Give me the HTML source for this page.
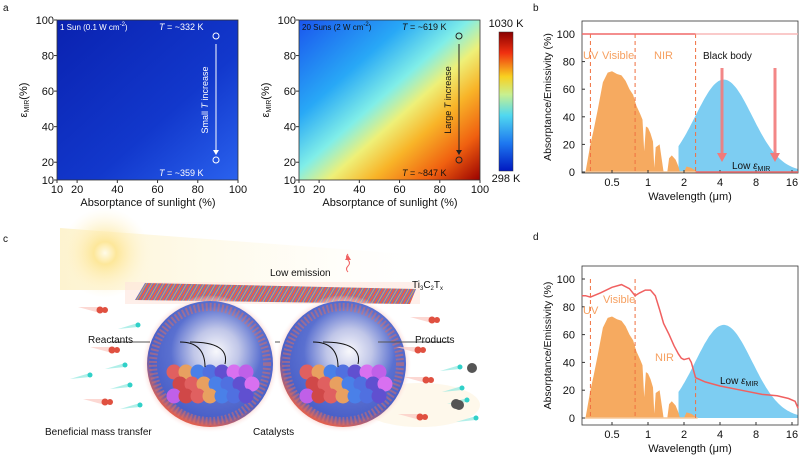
<!DOCTYPE html>
<html><head><meta charset="utf-8"><style>
body{margin:0;background:#fff;}
svg{display:block;font-family:"Liberation Sans",sans-serif;}
</style></head><body>
<svg id="s" width="800" height="459" viewBox="0 0 800 459" xmlns="http://www.w3.org/2000/svg">
<defs>
<linearGradient id="h1" x1="0" y1="0" x2="1" y2="1">
<stop offset="0" stop-color="#0a22b0"/><stop offset="0.6" stop-color="#1238cc"/><stop offset="1" stop-color="#2a62ee"/></linearGradient>
<linearGradient id="h2" x1="0" y1="0" x2="1" y2="1">
<stop offset="0" stop-color="#1a55ee"/><stop offset="0.3" stop-color="#28a8f6"/><stop offset="0.47" stop-color="#80eee8"/><stop offset="0.58" stop-color="#eef078"/><stop offset="0.7" stop-color="#f8b428"/><stop offset="0.85" stop-color="#f06010"/><stop offset="1" stop-color="#9a0000"/></linearGradient>
<linearGradient id="cb" x1="0" y1="1" x2="0" y2="0">
<stop offset="0" stop-color="#0018c0"/><stop offset="0.2" stop-color="#1e78f0"/><stop offset="0.4" stop-color="#50d8f0"/><stop offset="0.55" stop-color="#c8f090"/><stop offset="0.68" stop-color="#f8d020"/><stop offset="0.85" stop-color="#f03010"/><stop offset="1" stop-color="#8a0000"/></linearGradient>
<radialGradient id="sun" cx="0.5" cy="0.5" r="0.5"><stop offset="0" stop-color="#fffbe8"/><stop offset="0.25" stop-color="#fde79a"/><stop offset="1" stop-color="#fff6d8" stop-opacity="0"/></radialGradient>
<linearGradient id="beam" x1="0" y1="0" x2="1" y2="0"><stop offset="0" stop-color="#fbe9a8"/><stop offset="1" stop-color="#fff8e0" stop-opacity="0"/></linearGradient>
<pattern id="film" width="5" height="6" patternUnits="userSpaceOnUse" patternTransform="rotate(30)"><rect width="5" height="6" fill="#5a78d8"/><rect width="2" height="6" fill="#e86048"/><rect x="3" width="1" height="6" fill="#f0a040"/></pattern>
<radialGradient id="sph" cx="0.55" cy="0.4" r="0.6"><stop offset="0" stop-color="#f8f8fc"/><stop offset="0.3" stop-color="#c0c6e8"/><stop offset="0.6" stop-color="#5a70d0"/><stop offset="0.88" stop-color="#4a60c8"/><stop offset="1" stop-color="#e06050"/></radialGradient>
<radialGradient id="glow"><stop offset="0.85" stop-color="#f8b0a8"/><stop offset="1" stop-color="#fff" stop-opacity="0"/></radialGradient>
</defs>
<g id="g"></g>
</svg>
<script>
const g=document.getElementById('g');let h='';
function T(x,y,t,o){o=o||{};h+=`<text x="${x}" y="${y}" font-size="${o.s||11}" fill="${o.c||'#111'}" text-anchor="${o.a||'start'}" ${o.t?'transform="'+o.t+'"':''}>${t}</text>`;}
T(3,11,'a',{s:10});T(533,11,'b',{s:10});T(3,242,'c',{s:10});T(533,240,'d',{s:10});
function heat(x0,fill){
 h+=`<rect x="${x0}" y="20" width="181" height="160" fill="${fill}" stroke="#333" stroke-width="0.8"/>`;
 const X=v=>x0+(v-10)/90*181, Y=v=>180-(v-10)/90*160;
 [10,20,40,60,80,100].forEach(v=>{T(X(v),193,v,{a:'middle'});h+=`<line x1="${X(v)}" y1="180" x2="${X(v)}" y2="183" stroke="#333"/>`;
  T(x0-3,Y(v)+4,v,{a:'end'});h+=`<line x1="${x0-3}" y1="${Y(v)}" x2="${x0}" y2="${Y(v)}" stroke="#333"/>`;});
 T(x0+91,206,'Absorptance of sunlight (%)',{a:'middle'});
 T(x0-30,100,'ε<tspan font-size="7" dy="2">MIR</tspan><tspan dy="-2">(%)</tspan>',{a:'middle',t:`rotate(-90 ${x0-30} 100)`});
}
heat(57,'url(#h1)');
T(60,30,'1 Sun (0.1 W cm<tspan font-size="6" dy="-4">-2</tspan><tspan dy="4">)</tspan>',{s:8,c:'#fff'});
T(159,30,'<tspan font-style="italic">T</tspan> = ~332 K',{s:9,c:'#fff'});
T(159,176,'<tspan font-style="italic">T</tspan> = ~359 K',{s:9,c:'#fff'});
h+=`<circle cx="216" cy="36" r="3" fill="none" stroke="#fff"/><circle cx="216" cy="160" r="3" fill="none" stroke="#fff"/><line x1="216" y1="44" x2="216" y2="152" stroke="#fff"/><path d="M213,150 L219,150 L216,155Z" fill="#fff"/>`;
T(208,100,'Small <tspan font-style="italic">T</tspan> increase',{s:9,c:'#fff',a:'middle',t:'rotate(-90 208 100)'});
heat(299,'url(#h2)');
T(302,30,'20 Suns (2 W cm<tspan font-size="6" dy="-4">-2</tspan><tspan dy="4">)</tspan>',{s:8});
T(402,30,'<tspan font-style="italic">T</tspan> = ~619 K',{s:9});
T(402,176,'<tspan font-style="italic">T</tspan> = ~847 K',{s:9});
h+=`<circle cx="459" cy="36" r="3" fill="none" stroke="#222"/><circle cx="459" cy="160" r="3" fill="none" stroke="#222"/><line x1="459" y1="44" x2="459" y2="152" stroke="#222"/><path d="M456,150 L462,150 L459,155Z" fill="#222"/>`;
T(451,100,'Large <tspan font-style="italic">T</tspan> increase',{s:9,a:'middle',t:'rotate(-90 451 100)'});
h+=`<rect x="499" y="32" width="14" height="139" fill="url(#cb)" stroke="#333" stroke-width="0.5"/>`;
T(506,27,'1030 K',{a:'middle'});T(506,182,'298 K',{a:'middle'});
const LX=l=>648+36*Math.log2(l);
function gauss(l){return 67*Math.exp(-Math.pow(Math.log2(l/4.3),2)/(2*0.62));}
const sol=[[0.3,0],[0.33,20],[0.35,30],[0.38,45],[0.42,65],[0.46,72],[0.5,73],[0.55,71],[0.6,70],[0.65,66],[0.7,60],[0.75,56],[0.8,48],[0.86,42],[0.9,38],[0.93,15],[0.96,33],[1.0,32],[1.05,28],[1.1,22],[1.13,3],[1.16,18],[1.25,20],[1.3,10],[1.35,0],[1.45,0],[1.5,10],[1.58,12],[1.7,9],[1.78,5],[1.85,0],[2.0,0],[2.1,4],[2.3,3],[2.5,1],[2.6,0]];
function spec(y0,y100,top,bot){
 const Y=v=>y0-(v)*(y0-y100)/100;
 let p=`M${LX(1.8)},${Y(0)}`;for(let l=1.8;l<=18;l*=1.03)p+=` L${LX(l).toFixed(1)},${Y(gauss(l)).toFixed(1)}`;p+=` L798,${Y(gauss(18))} L798,${Y(0)}Z`;
 h+=`<path d="${p}" fill="#7dcdf2"/>`;
 p=`M${LX(0.3)},${Y(0)}`;sol.forEach(([l,v])=>p+=` L${LX(l).toFixed(1)},${Y(v).toFixed(1)}`);p+='Z';
 h+=`<path d="${p}" fill="#f6aa60"/>`;
 h+=`<line x1="585" y1="${Y(0)}" x2="${LX(2.6)}" y2="${Y(0)}" stroke="#f6c89a" stroke-width="1.5"/>`;
 [0.33,0.78,2.5].forEach(l=>h+=`<line x1="${LX(l)}" y1="${Y(l==2.5&&y0>300?28:100)}" x2="${LX(l)}" y2="${Y(0)}" stroke="#f07040" stroke-dasharray="4,3"/>`);
 h+=`<rect x="582" y="${top}" width="216" height="${bot-top}" fill="none" stroke="#333" stroke-width="0.8"/>`;
 [0,20,40,60,80,100].forEach(v=>{T(575,Y(v)+4,v,{a:'end'});h+=`<line x1="582" y1="${Y(v)}" x2="585" y2="${Y(v)}" stroke="#333"/>`;});
 [0.5,1,2,4,8,16].forEach(l=>{T(LX(l),bot+13,l,{a:'middle'});h+=`<line x1="${LX(l)}" y1="${bot}" x2="${LX(l)}" y2="${bot-3}" stroke="#333"/>`;});
 T(690,bot+27,'Wavelength (μm)',{a:'middle'});
 const cy=(top+bot)/2;T(551,cy,'Absorptance/Emissivity (%)',{s:10.5,a:'middle',t:`rotate(-90 551 ${cy})`});
 return Y;
}
spec(172,34,21,173);
h+=`<line x1="582" y1="34" x2="${LX(2.5)}" y2="34" stroke="#f06868" stroke-width="1.5"/><line x1="${LX(2.5)}" y1="34" x2="798" y2="34" stroke="#f8b8b8" stroke-width="1.5"/><line x1="${LX(2.5)}" y1="172" x2="798" y2="172" stroke="#f06868" stroke-width="1.5"/>`;
T(583,59,'UV',{c:'#f6a060'});T(602,59,'Visible',{c:'#f6a060'});T(654,59,'NIR',{c:'#f6a060'});T(703,59,'Black body',{s:10});
[722,775].forEach(x=>h+=`<rect x="${x-1.5}" y="68" width="3" height="88" fill="#f27a7a" opacity="0.9"/><path d="M${x-5},153 L${x+5},153 L${x},162Z" fill="#f27a7a"/>`);
T(732,169,'Low <tspan font-style="italic">ε</tspan><tspan font-size="7" dy="2">MIR</tspan>',{s:10});
let Yd=spec(418,279,266,425);
const red=[[0.28,88],[0.3,88],[0.33,87],[0.4,90],[0.5,94],[0.6,96],[0.7,93],[0.78,88],[0.85,90],[0.95,92],[1.05,92],[1.15,88],[1.25,78],[1.35,68],[1.5,60],[1.65,52],[1.8,46],[1.9,43],[2.0,42],[2.2,43],[2.3,40],[2.5,29],[3,26],[4,23],[6,20],[9,17],[12,16],[15,14],[17,12],[18,7]];
let pr='M'+red.map(([l,v])=>LX(l).toFixed(1)+','+Yd(v).toFixed(1)).join(' L');
h+=`<path d="${pr}" fill="none" stroke="#f06060" stroke-width="1.5"/>`;
T(583,314,'UV',{c:'#f6a060'});T(603,303,'Visible',{c:'#f6a060'});T(655,361,'NIR',{c:'#f6a060'});
T(720,384,'Low <tspan font-style="italic">ε</tspan><tspan font-size="7" dy="2">MIR</tspan>',{s:10});
// panel c
h+=`<path d="M60,228 L420,255 L420,290 L60,290Z" fill="url(#beam)" opacity="0.55"/><circle cx="105" cy="253" r="45" fill="url(#sun)"/>`;
h+=`<ellipse cx="420" cy="405" rx="60" ry="22" fill="#fdf2d8" opacity="0.5"/>`;
h+=`<rect x="125" y="282" width="295" height="22" fill="#fde4dc" opacity="0.6"/>`;
h+=`<path d="M145,283 L416,289 L410,304 L135,300Z" fill="url(#film)"/>`;
T(270,276,'Low emission',{s:10});T(412,288,'Ti<tspan font-size="6" dy="2">3</tspan><tspan dy="-2">C</tspan><tspan font-size="6" dy="2">2</tspan><tspan dy="-2">T</tspan><tspan font-size="6" dy="2">x</tspan>',{s:10});
h+=`<path d="M348,272 q-3,-3 0,-6 q3,-3 0,-6 q-3,-3 0,-6" stroke="#f06060" fill="none"/><path d="M345,260 L348,255 L351,260Z" fill="#f06060"/>`;
[[210,364],[343,364]].forEach(([cx,cy])=>{h+=`<circle cx="${cx}" cy="${cy}" r="69" fill="url(#glow)"/><circle cx="${cx}" cy="${cy}" r="63" fill="url(#sph)"/><circle cx="${cx}" cy="${cy}" r="57" fill="none" stroke="#e07060" stroke-width="8" stroke-dasharray="2,2" opacity="0.5"/>`;
 const cols=['#e06060','#5070e0','#c060e8','#e8a060','#6050d0','#d04848','#4a80e8','#d870f0'];
 let k=0;for(let j=0;j<3;j++)for(let i=-3;i<=3;i++){const x=cx+i*12+(j%2)*6,y=cy+8+j*12;if(Math.hypot(x-cx,y-cy)<53){h+=`<circle cx="${x}" cy="${y}" r="7.5" fill="${cols[(k++*3)%8]}"/>`;}}
 h+=`<path d="M${cx-30},${cy-22} q25,0 25,25" stroke="#111" fill="none"/><path d="M${cx-20},${cy-22} q40,0 35,22" stroke="#111" fill="none"/>`;});
h+=`<line x1="110" y1="342" x2="150" y2="342" stroke="#555"/><line x1="378" y1="342" x2="450" y2="342" stroke="#555"/><line x1="275" y1="342" x2="280" y2="342" stroke="#555"/>`;
T(88,343,'Reactants',{s:10});T(415,343,'Products',{s:10});
T(45,435,'Beneficial mass transfer',{s:10});T(253,435,'Catalysts',{s:10});
[[100,310],[112,350],[105,402],[432,320],[418,350],[426,380],[420,417]].forEach(([x,y])=>h+=`<path d="M${x-22},${y-3} L${x},${y-3} L${x},${y+3}Z" fill="#fbc8c0" opacity="0.7"/><circle cx="${x}" cy="${y}" r="3.5" fill="#e05040"/><circle cx="${x+5}" cy="${y}" r="3" fill="#e05040"/>`);
[[138,325],[125,365],[90,375],[130,385],[140,405],[460,367],[462,388],[467,400],[476,418]].forEach(([x,y])=>h+=`<path d="M${x-20},${y+4} L${x},${y-2} L${x},${y+2}Z" fill="#90e8e0" opacity="0.7"/><circle cx="${x}" cy="${y}" r="2.5" fill="#30d0c8"/>`);
[[472,368],[456,404],[459,405]].forEach(([x,y])=>h+=`<circle cx="${x}" cy="${y}" r="5" fill="#555"/>`);
g.innerHTML=h;
</script>
</body></html>
